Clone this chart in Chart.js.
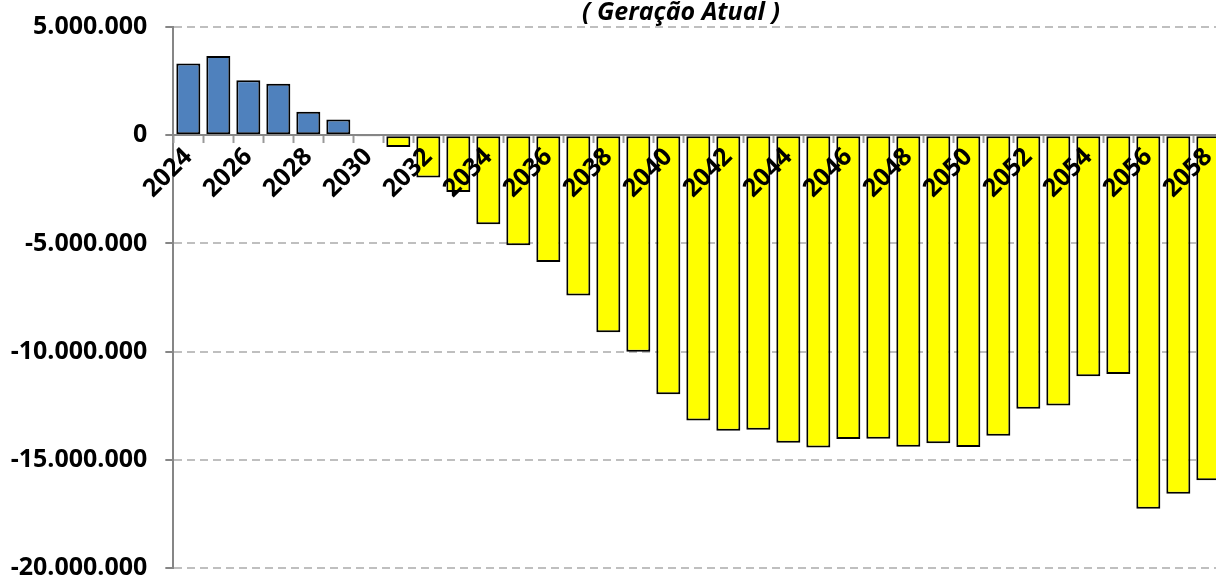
<!DOCTYPE html>
<html>
<head>
<meta charset="utf-8">
<script src="https://cdn.jsdelivr.net/npm/chart.js@4/dist/chart.umd.min.js"></script>
<style>
  html, body { margin: 0; padding: 0; background: #fff; overflow: hidden; }
  #wrap { width: 1240px; height: 575px; }
</style>
</head>
<body>
<div id="wrap"><canvas id="chart"></canvas></div>
<script>
// dados do gráfico
const years = ['2024','2025','2026','2027','2028','2029','2030','2031','2032','2033',
  '2034','2035','2036','2037','2038','2039','2040','2041','2042','2043',
  '2044','2045','2046','2047','2048','2049','2050','2051','2052','2053',
  '2054','2055','2056','2057','2058'];

const saldo = [3310000, 3660000, 2540000, 2380000, 1080000, 720000, -40000, -540000, -1950000, -2620000,
  -4110000, -5080000, -5860000, -7410000, -9110000, -10010000, -11970000, -13180000, -13660000, -13610000,
  -14210000, -14430000, -14040000, -14030000, -14400000, -14230000, -14410000, -13890000, -12640000, -12490000,
  -11140000, -11030000, -17260000, -16570000, -15940000];

const yTicks = [5000000, 0, -5000000, -10000000, -15000000, -20000000];
const titleText = '( Geração Atual )';

const tickFont = { family: '"Open Sans"', size: 25, weight: 'bold' };

// formato 5.000.000
function formatNum(v) {
  const s = Math.abs(v).toString().replace(/\B(?=(\d{3})+(?!\d))/g, '.');
  return (v < 0 ? '-' : '') + s;
}

// título desenhado à mão (centro deslocado como no original)
const titlePlugin = {
  id: 'titleText',
  afterDraw(chart) {
    const ctx = chart.ctx;
    ctx.save();
    ctx.font = 'italic bold 25px "Open Sans"';
    ctx.fillStyle = '#000';
    ctx.textAlign = 'center';
    ctx.textBaseline = 'alphabetic';
    ctx.fillText(titleText, 681, 20);
    ctx.restore();
  }
};

new Chart(document.getElementById('chart'), {
  type: 'bar',
  data: {
    labels: years,
    datasets: [{
      data: saldo,
      backgroundColor: saldo.map(v => v >= 0 ? '#4F81BD' : '#FFFF00'),
      borderColor: '#000000',
      borderWidth: 2,
      borderSkipped: false,
      barPercentage: 0.8,
      categoryPercentage: 1
    }]
  },
  options: {
    responsive: true,
    maintainAspectRatio: false,
    animation: false,
    layout: { padding: { left: 0, right: 16.67, top: 27, bottom: 7 } },
    plugins: {
      legend: { display: false },
      title: { display: false },
      tooltip: { enabled: false }
    },
    scales: {
      x: {
        position: { y: 0 },
        afterFit(scale) {
          scale.height = 0;
          scale.paddingLeft = 0;
          scale.paddingRight = 0;
        },
        grid: {
          z: 1,
          drawOnChartArea: false,
          drawTicks: true,
          tickLength: 7,
          tickColor: '#9A9A9A',
          tickWidth: 2
        },
        border: { z: 1, display: true, color: '#868686', width: 2 },
        ticks: {
          z: 1,
          autoSkip: false,
          minRotation: 45,
          maxRotation: 45,
          color: '#000',
          font: tickFont,
          padding: 0,
          callback: function(value, index) {
            return index % 2 === 0 ? this.getLabelForValue(value) : '';
          }
        }
      },
      y: {
        min: -20000000,
        max: 5000000,
        afterFit(scale) {
          scale.width = 173.33;
          // sem folga extra em cima/embaixo
          scale.paddingTop = 0;
          scale.paddingBottom = 0;
        },
        afterBuildTicks(scale) { scale.ticks = yTicks.map(v => ({ value: v })); },
        grid: {
          color: '#BFBFBF',
          lineWidth: 2,
          tickLength: 8,
          tickColor: '#868686',
          tickWidth: 2
        },
        border: { display: true, color: '#868686', width: 2, dash: [8, 5] },
        ticks: {
          color: '#000',
          font: tickFont,
          padding: 18,
          callback: v => formatNum(v)
        }
      }
    }
  },
  plugins: [titlePlugin]
});
</script>
</body>
</html>
